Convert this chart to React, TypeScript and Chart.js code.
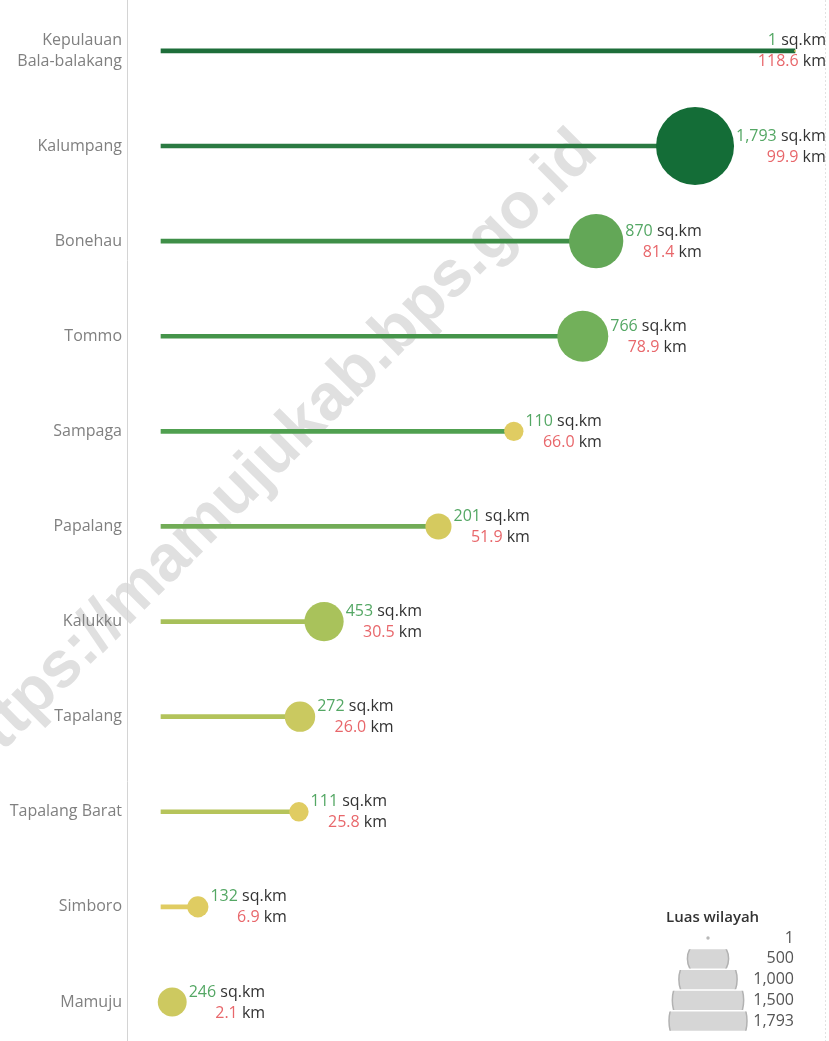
import React, { useEffect, useRef } from 'react';
import { Chart, registerables } from 'chart.js';

Chart.register(...registerables);

// ---- data ----
const districts = ['Kepulauan Bala-balakang', 'Kalumpang', 'Bonehau', 'Tommo', 'Sampaga', 'Papalang', 'Kalukku', 'Tapalang', 'Tapalang Barat', 'Simboro', 'Mamuju'];
const tickLabels: (string | string[])[] = [['Kepulauan', 'Bala-balakang'], 'Kalumpang', 'Bonehau', 'Tommo', 'Sampaga', 'Papalang', 'Kalukku', 'Tapalang', 'Tapalang Barat', 'Simboro', 'Mamuju'];
const distanceKm = [118.6, 99.9, 81.4, 78.9, 66.0, 51.9, 30.5, 26.0, 25.8, 6.9, 2.1];
const areaSqKm = [1, 1793, 870, 766, 110, 201, 453, 272, 111, 132, 246];
const lineColors = ['#1e6e3a', '#2b7a42', '#3f8f48', '#45944a', '#50a050', '#72ac57', '#a7c05a', '#b3c35b', '#b6c45b', '#e0cc62', '#e5cd62'];
const bubbleColors = ['#e3cc5f', '#146d37', '#63a757', '#72b05a', '#e0cc62', '#d5ca5f', '#a9c25b', '#cac960', '#e0cc62', '#dfcc62', '#cdc960'];
const legendTitle = 'Luas wilayah';
const legendValues = [1, 500, 1000, 1500, 1793];
const areaUnit = 'sq.km';
const distUnit = 'km';
const watermarkText = 'https://mamujukab.bps.go.id';

// ---- style ----
const FONT = '"Open Sans", "Noto Sans", sans-serif';
const GREEN_TXT = '#54a764';
const RED_TXT = '#e8676b';
const DARK_TXT = '#333333';
const MAX_R = 39;
const maxArea = Math.max(...areaSqKm);
const radiusFor = (a: number) => Math.max(0.9, MAX_R * Math.sqrt(a / maxArea));
const fmtArea = (a: number) => a.toLocaleString('en-US');

const overlayPlugin = {
  id: 'overlay',
  beforeDraw(chart: any) {
    const ctx = chart.ctx as CanvasRenderingContext2D;
    ctx.save();
    ctx.translate(274, 455);
    ctx.rotate(-Math.PI / 4);
    ctx.font = 'bold 65px "Liberation Sans", Arial, sans-serif';
    ctx.fillStyle = '#e0e0e0';
    ctx.textAlign = 'center';
    ctx.textBaseline = 'middle';
    ctx.fillText(watermarkText, 0, 0);
    ctx.restore();
    // right dotted border
    ctx.save();
    ctx.strokeStyle = '#e2e2e2';
    ctx.setLineDash([2, 2]);
    ctx.lineWidth = 1;
    ctx.beginPath();
    ctx.moveTo(825.5, 0);
    ctx.lineTo(825.5, chart.height);
    ctx.stroke();
    ctx.restore();
  },
  afterDatasetsDraw(chart: any) {
    const ctx = chart.ctx as CanvasRenderingContext2D;
    const xs = chart.scales.x;
    const ys = chart.scales.y;
    ctx.save();
    ctx.font = `16px ${FONT}`;
    ctx.textBaseline = 'middle';
    ctx.textAlign = 'left';
    const sp = ctx.measureText(' ').width;
    distanceKm.forEach((d, i) => {
      const cx = xs.getPixelForValue(d);
      const cy = ys.getPixelForValue(i);
      const r = radiusFor(areaSqKm[i]);
      const n1 = fmtArea(areaSqKm[i]);
      const n2 = d.toFixed(1);
      const wn1 = ctx.measureText(n1).width, wu1 = ctx.measureText(areaUnit).width;
      const wn2 = ctx.measureText(n2).width, wu2 = ctx.measureText(distUnit).width;
      const w1 = wn1 + sp + wu1;
      const w2 = wn2 + sp + wu2;
      const bw = Math.max(w1, w2);
      const left = Math.min(cx + r + 2, 826 - bw);
      const right = left + bw;
      const y1 = cy - 10, y2 = cy + 11;
      ctx.fillStyle = GREEN_TXT;
      ctx.fillText(n1, right - w1, y1);
      ctx.fillStyle = DARK_TXT;
      ctx.fillText(areaUnit, right - wu1, y1);
      ctx.fillStyle = RED_TXT;
      ctx.fillText(n2, right - w2, y2);
      ctx.fillStyle = DARK_TXT;
      ctx.fillText(distUnit, right - wu2, y2);
    });
    ctx.restore();

    // size legend
    const area = chart.chartArea;
    const lx = area.right - 121;
    const valX = area.right - 35;
    const ly0 = 938;
    const step = 20.75;
    ctx.save();
    ctx.font = `600 15px ${FONT}`;
    ctx.fillStyle = DARK_TXT;
    ctx.textAlign = 'left';
    ctx.textBaseline = 'middle';
    ctx.fillText(legendTitle, lx - 42, 918);
    legendValues.forEach((v, k) => {
      const yc = ly0 + k * step;
      const r = radiusFor(v);
      ctx.save();
      ctx.beginPath();
      ctx.rect(lx - 60, yc - 9.6, 120, 19.4);
      ctx.clip();
      ctx.beginPath();
      ctx.arc(lx, yc, Math.max(r, 1.7), 0, Math.PI * 2);
      ctx.fillStyle = r > 3 ? '#d6d6d6' : '#b8b8b8';
      ctx.fill();
      if (r > 3) {
        ctx.strokeStyle = '#b2b2b2';
        ctx.lineWidth = 1.5;
        ctx.stroke();
      }
      ctx.restore();
      ctx.font = `16px ${FONT}`;
      ctx.fillStyle = '#555555';
      ctx.textAlign = 'right';
      ctx.fillText(fmtArea(v), valX, yc);
    });
    ctx.restore();
  },
};

export default function App() {
  const ref = useRef<HTMLCanvasElement | null>(null);
  useEffect(() => {
    if (!ref.current) return;
    const chart = new Chart(ref.current, {
      type: 'bubble',
      data: {
        labels: districts,
        datasets: [
          {
            type: 'bubble',
            label: 'Luas wilayah',
            data: areaSqKm.map((a, i) => ({ x: distanceKm[i], y: i, r: radiusFor(a) })),
            backgroundColor: bubbleColors,
            borderWidth: 0,
            hoverRadius: 0,
            order: 1,
          } as any,
          {
            type: 'bar',
            label: 'Jarak',
            indexAxis: 'y',
            data: distanceKm.map((d, i) => ({ x: [0, d], y: i })),
            backgroundColor: lineColors,
            borderWidth: 0,
            barThickness: 4,
            order: 2,
          } as any,
        ],
      },
      options: {
        responsive: false,
        animation: false,
        layout: { padding: 0, autoPadding: false },
        plugins: { legend: { display: false }, tooltip: { enabled: false } },
        scales: {
          x: {
            type: 'linear',
            display: false,
            offset: false,
            beginAtZero: false,
            min: -6.36,
            max: 124.96,
          },
          y: {
            type: 'linear',
            reverse: true,
            offset: false,
            min: -0.535,
            max: 10.41,
            grid: { display: false, drawTicks: false, offset: false },
            border: { display: true, color: '#d4d4d4', dash: [2, 2], width: 1 },
            afterBuildTicks: (axis: any) => {
              axis.ticks = tickLabels.map((_, i) => ({ value: i }));
            },
            afterFit: (axis: any) => {
              axis.width = 127;
              axis.paddingTop = 0;
              axis.paddingBottom = 0;
            },
            ticks: {
              autoSkip: false,
              padding: 5,
              color: '#808080',
              font: { family: FONT, size: 16, lineHeight: 1.35 },
              callback: (v: any) => tickLabels[v as number] ?? '',
            },
          },
        },
      },
      plugins: [overlayPlugin],
    });
    return () => chart.destroy();
  }, []);
  return (
    <div style={{ position: 'absolute', left: 0, top: 0, width: 829, height: 1041, background: '#fff', overflow: 'hidden' }}>
      <canvas ref={ref} width={829} height={1041} />
    </div>
  );
}
